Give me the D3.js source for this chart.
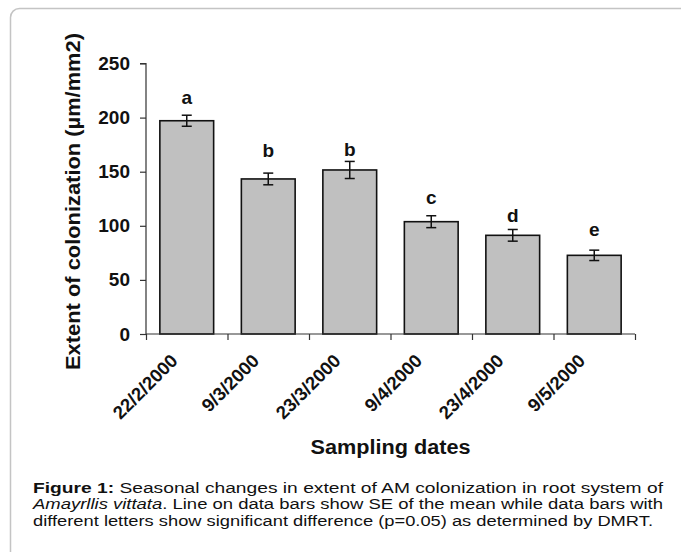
<!DOCTYPE html>
<html>
<head>
<meta charset="utf-8">
<script src="https://cdn.jsdelivr.net/npm/d3@7"></script>
<style>
  body { margin: 0; background: #fff; }
  text { font-family: Arial, "Liberation Sans", sans-serif; }
</style>
</head>
<body>
<div id="chart"></div>
<script>
// Seasonal AM colonization - bar chart with SE lines

// Data
var dates = ["22/2/2000", "9/3/2000", "23/3/2000", "9/4/2000", "23/4/2000", "9/5/2000"];
var means = [197.1, 143.3, 151.6, 103.8, 91.2, 72.7];
var se = [5.1, 5.4, 7.9, 5.5, 5.4, 4.8];
var letters = ["a", "b", "b", "c", "d", "e"];
var letterAt = [213, 164, 164.5, 120.3, 103.8, 90.5];
var yTicks = [0, 50, 100, 150, 200, 250];

// SVG parameter setup
var svgWidth = 681;
var svgHeight = 552;

var margin = { top: 63.5, left: 146, right: 46, bottom: 218 };
var width = svgWidth - margin.left - margin.right;
var height = svgHeight - margin.top - margin.bottom;

var svg = d3.select("#chart").append("svg")
    .attr("width", svgWidth)
    .attr("height", svgHeight);

// Rounded frame round figure + caption
svg.append("rect")
    .attr("x", 10.5)
    .attr("y", 8.5)
    .attr("width", 685)
    .attr("height", 580)
    .attr("rx", 9)
    .attr("fill", "none")
    .attr("stroke", "#c4c4c4")
    .attr("stroke-width", 1.5);

var chartGroup = svg.append("g")
    .attr("transform", `translate(${margin.left}, ${margin.top})`);

// Scales
var xBand = d3.scaleBand()
    .domain(dates)
    .range([0, width])
    .paddingInner(0.34)
    .paddingOuter(0.17);

var xEdge = d3.scaleLinear()
    .domain([0, dates.length])
    .range([0, width]);

var yLinearScale = d3.scaleLinear()
    .domain([0, 250])
    .range([height, 0]);

// Bars
chartGroup.selectAll(".bar")
    .data(means)
    .enter()
    .append("rect")
    .attr("class", "bar")
    .attr("x", (d, i) => xBand(dates[i]))
    .attr("y", d => yLinearScale(d))
    .attr("width", xBand.bandwidth())
    .attr("height", d => height - yLinearScale(d))
    .attr("fill", "#c0c0c0")
    .attr("stroke", "#111")
    .attr("stroke-width", 1.6);

// SE lines
var capHalf = 5;
var errGroup = chartGroup.selectAll(".err")
    .data(means)
    .enter()
    .append("g")
    .attr("class", "err")
    .attr("stroke", "#111")
    .attr("stroke-width", 1.5);

errGroup.append("line")
    .attr("x1", (d, i) => xBand(dates[i]) + xBand.bandwidth() / 2)
    .attr("x2", (d, i) => xBand(dates[i]) + xBand.bandwidth() / 2)
    .attr("y1", (d, i) => yLinearScale(d + se[i]))
    .attr("y2", (d, i) => yLinearScale(d - se[i]));

errGroup.append("line")
    .attr("x1", (d, i) => xBand(dates[i]) + xBand.bandwidth() / 2 - capHalf)
    .attr("x2", (d, i) => xBand(dates[i]) + xBand.bandwidth() / 2 + capHalf)
    .attr("y1", (d, i) => yLinearScale(d + se[i]))
    .attr("y2", (d, i) => yLinearScale(d + se[i]));

errGroup.append("line")
    .attr("x1", (d, i) => xBand(dates[i]) + xBand.bandwidth() / 2 - capHalf)
    .attr("x2", (d, i) => xBand(dates[i]) + xBand.bandwidth() / 2 + capHalf)
    .attr("y1", (d, i) => yLinearScale(d - se[i]))
    .attr("y2", (d, i) => yLinearScale(d - se[i]));

// DMRT letters
chartGroup.selectAll(".letter")
    .data(letters)
    .enter()
    .append("text")
    .attr("class", "letter")
    .attr("x", (d, i) => xBand(dates[i]) + xBand.bandwidth() / 2)
    .attr("y", (d, i) => yLinearScale(letterAt[i]))
    .attr("text-anchor", "middle")
    .attr("font-size", 19)
    .attr("font-weight", "bold")
    .attr("fill", "#111")
    .text(d => d);

// Y axis
var leftAxis = d3.axisLeft(yLinearScale)
    .tickValues(yTicks)
    .tickSize(6)
    .tickPadding(10);

var yAxis = chartGroup.append("g").call(leftAxis);
yAxis.select(".domain").attr("d", `M-6,0H0V${height}`);
yAxis.selectAll("path, line").attr("stroke", "#333").attr("stroke-width", 1.2);
yAxis.selectAll("text")
    .attr("font-size", 19)
    .attr("font-weight", "bold")
    .attr("fill", "#111");

// X axis - ticks between bars only
var bottomAxis = d3.axisBottom(xEdge)
    .tickValues(d3.range(dates.length + 1))
    .tickSize(6)
    .tickFormat("");

var xAxis = chartGroup.append("g")
    .attr("transform", `translate(0, ${height})`)
    .call(bottomAxis);
xAxis.select(".domain").attr("d", `M0,0H${width}`);
xAxis.selectAll("path, line").attr("stroke", "#333").attr("stroke-width", 1.2);

// Rotated date labels
chartGroup.selectAll(".date")
    .data(dates)
    .enter()
    .append("text")
    .attr("class", "date")
    .attr("transform", d => `translate(${xBand(d) + xBand.bandwidth() / 2 - 8}, ${height + 28}) rotate(-45)`)
    .attr("text-anchor", "end")
    .attr("font-size", 18.5)
    .attr("font-weight", "bold")
    .attr("fill", "#111")
    .text(d => d);

// Axis titles
svg.append("text")
    .attr("transform", "translate(80, 201.5) rotate(-90)")
    .attr("text-anchor", "middle")
    .attr("font-size", 20)
    .attr("font-weight", "bold")
    .attr("fill", "#111")
    .attr("textLength", 337)
    .attr("lengthAdjust", "spacingAndGlyphs")
    .text("Extent of colonization (µm/mm2)");

svg.append("text")
    .attr("x", margin.left + width / 2)
    .attr("y", 454)
    .attr("text-anchor", "middle")
    .attr("font-size", 20)
    .attr("font-weight", "bold")
    .attr("fill", "#111")
    .attr("textLength", 160)
    .attr("lengthAdjust", "spacingAndGlyphs")
    .text("Sampling dates");

// Caption
var cap1 = svg.append("text")
    .attr("x", 33).attr("y", 492.5)
    .attr("font-size", 15.5).attr("fill", "#111")
    .attr("textLength", 630).attr("lengthAdjust", "spacingAndGlyphs");
cap1.append("tspan").attr("font-weight", "bold").text("Figure 1:");
cap1.append("tspan").text(" Seasonal changes in extent of AM colonization in root system of");

var cap2 = svg.append("text")
    .attr("x", 33).attr("y", 509)
    .attr("font-size", 15.5).attr("fill", "#111")
    .attr("textLength", 630).attr("lengthAdjust", "spacingAndGlyphs");
cap2.append("tspan").attr("font-style", "italic").text("Amayrllis vittata");
cap2.append("tspan").text(". Line on data bars show SE of the mean while data bars with");

svg.append("text")
    .attr("x", 33).attr("y", 525.5)
    .attr("font-size", 15.5).attr("fill", "#111")
    .attr("textLength", 620).attr("lengthAdjust", "spacingAndGlyphs")
    .text("different letters show significant difference (p=0.05) as determined by DMRT.");
</script>
</body>
</html>
